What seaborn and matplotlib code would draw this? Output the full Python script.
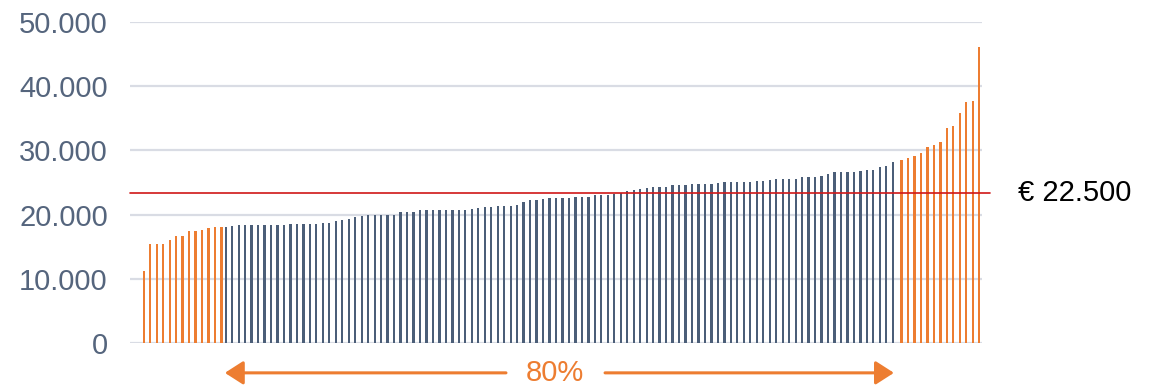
import numpy as np
import pandas as pd
import seaborn as sns
import matplotlib.pyplot as plt
from matplotlib.ticker import FuncFormatter

# sorted values: lowest 10%, middle 80%, highest 10%
low_tail = [11260, 15470, 15470, 15470, 16100, 16620, 16720, 17500, 17500,
            17600, 17870, 18020, 18020]
middle = [18020, 18230,
          18330, 18330, 18330, 18330, 18330, 18330, 18330, 18330,
          18490, 18490, 18490, 18490, 18540, 18640, 18750, 19010, 19110,
          19370, 19700, 19820, 19940, 19950, 19950, 19950, 19950,
          20360, 20410, 20410, 20640,
          20670, 20670, 20670, 20670, 20670, 20670, 20670,
          20830, 21030, 21190, 21240, 21290, 21290, 21400, 21500, 21920,
          22230, 22230, 22480, 22540, 22540, 22540, 22540,
          22750, 22750, 22750, 23010, 23010, 23010, 23250, 23320,
          23730, 23790, 23990, 24150, 24250, 24250, 24250,
          24610, 24610, 24610, 24720, 24770, 24770, 24770, 24880,
          25030, 25030, 25030, 25030, 25030, 25240, 25240, 25350,
          25500, 25500, 25500, 25600, 25810, 25810, 25910, 26020, 26280,
          26590, 26590, 26590, 26590, 26750, 26900, 27000, 27420, 27620, 28150]
high_tail = [28460, 28770, 29130, 29550, 30540, 30850, 31310, 33440, 33760,
             35830, 37590, 37750, 46060]

line_value = 23300
line_label = "€ 22.500"
middle_label = "80%"

orange = "#ED7D31"
blue = "#4B5E78"
grid = "#D9DCE4"
tick_color = "#55657D"

values = low_tail + middle + high_tail
groups = ["tail"] * len(low_tail) + ["mid"] * len(middle) + ["tail"] * len(high_tail)
df = pd.DataFrame({"idx": np.arange(len(values)), "value": values, "group": groups})

sns.set_style("white")
plt.rcParams["font.family"] = ["Liberation Sans", "DejaVu Sans"]

fig = plt.figure(figsize=(11.58, 3.88), dpi=100)
ax = fig.add_axes([130 / 1158, 1 - 343 / 388, 852 / 1158, 321 / 388])
ax.set_axisbelow(True)

sns.barplot(data=df, x="idx", y="value", hue="group", hue_order=["mid", "tail"],
            palette={"mid": blue, "tail": orange}, width=0.7, dodge=True,
            saturation=1, linewidth=0, legend=False, ax=ax)

ax.set_ylim(0, 50000)
ax.set_xlim(-1.95, 129.6)
ax.set_yticks(range(0, 50001, 10000))
ax.yaxis.set_major_formatter(FuncFormatter(lambda v, p: f"{int(v):,}".replace(",", ".")))
ax.set_xticks([])
ax.set_xlabel("")
ax.set_ylabel("")
ax.tick_params(axis="y", length=0, pad=16, labelsize=21, labelcolor=tick_color)
ax.grid(axis="y", color=grid, lw=1.6)
sns.despine(ax=ax, left=True, bottom=True)

# threshold line with its label at the right
ax.axhline(line_value, xmin=0, xmax=1.009, color="#D01818", lw=1.2, zorder=4, clip_on=False)
ax.text(1.042, line_value, line_label, transform=ax.get_yaxis_transform(),
        va="center", ha="left", fontsize=21, color="black")

# double arrow marking the middle 80%
first_mid = len(low_tail) - 0.3
last_mid = len(low_tail) + len(middle) - 1
y_arrow = -0.093
arrow_style = dict(arrowstyle="-|>,head_length=0.7,head_width=0.45", color=orange,
                   lw=2.2, mutation_scale=16, shrinkA=0, shrinkB=0)
ax.annotate("", xy=(first_mid, y_arrow), xytext=(56.1, y_arrow),
            xycoords=("data", "axes fraction"), textcoords=("data", "axes fraction"),
            arrowprops=arrow_style, annotation_clip=False)
ax.annotate("", xy=(last_mid, y_arrow), xytext=(71.4, y_arrow),
            xycoords=("data", "axes fraction"), textcoords=("data", "axes fraction"),
            arrowprops=arrow_style, annotation_clip=False)
ax.text(63.7, y_arrow, middle_label, transform=ax.get_xaxis_transform(),
        ha="center", va="center", fontsize=21, color=orange)

fig.savefig("out.png", dpi=100)
